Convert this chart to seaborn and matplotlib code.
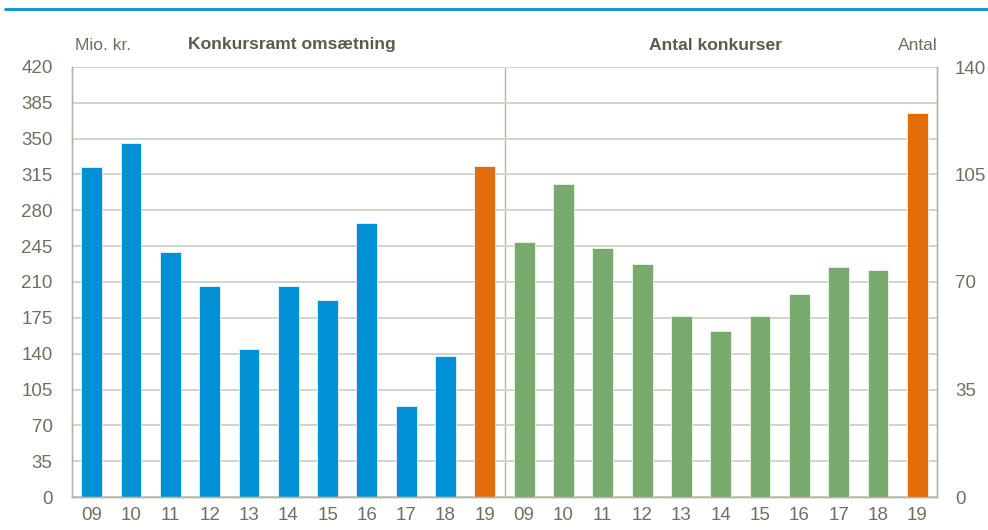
import pandas as pd
import matplotlib
matplotlib.use("Agg")
import matplotlib.pyplot as plt
from matplotlib.lines import Line2D
import seaborn as sns

# Data
years = ["09", "10", "11", "12", "13", "14", "15", "16", "17", "18", "19"]
omsaetning = [322, 346, 239, 206, 145, 206, 192, 268, 89, 138, 323]   # Mio. kr.
konkurser = [83, 102, 81, 76, 59, 54, 59, 66, 75, 74, 125]           # Antal

BLUE = "#0091d5"
GREEN = "#78aa6e"
ORANGE = "#e36c0a"
TEXT = "#6f6f60"
TITLE = "#5c5c4c"
SPINE = "#b4b4a6"
GRID = "#d3d3cb"

sns.set_style("white")
plt.rcParams["font.family"] = ["Liberation Sans", "DejaVu Sans"]

n = len(years)
left = pd.DataFrame({
    "pos": list(range(n)),
    "value": omsaetning,
    "grp": ["hist"] * (n - 1) + ["now"],
})
right = pd.DataFrame({
    "pos": list(range(n, 2 * n)),
    "value": konkurser,
    "grp": ["hist"] * (n - 1) + ["now"],
})

fig = plt.figure(figsize=(9.88, 5.3), dpi=100)
ax = fig.add_axes([72 / 988, 1 - 497 / 530, 865 / 988, 430 / 530])
ax2 = ax.twinx()

sns.barplot(data=left, x="pos", y="value", hue="grp", dodge=False,
            palette={"hist": BLUE, "now": ORANGE}, native_scale=True, saturation=1,
            width=0.53, legend=False, ax=ax, edgecolor="#e8f4fb", linewidth=0.6)
sns.barplot(data=right, x="pos", y="value", hue="grp", dodge=False,
            palette={"hist": GREEN, "now": ORANGE}, native_scale=True, saturation=1,
            width=0.53, legend=False, ax=ax2, edgecolor="#eef5ec", linewidth=0.6)

ax.set_xlim(-0.5, 2 * n - 0.5)
ax.set_ylim(0, 420)
ax2.set_ylim(0, 140)
ax.set_yticks(range(0, 421, 35))
ax2.set_yticks(range(0, 141, 35))
ax.set_xticks(range(2 * n))
ax.set_xticklabels(years + years)

ax.set_axisbelow(True)
ax.grid(axis="y", color=GRID, lw=1.4)
ax.axvline(n - 0.5, color=SPINE, lw=1, zorder=0.5)

for a in (ax, ax2):
    a.set_xlabel("")
    a.set_ylabel("")
    for s in a.spines.values():
        s.set_color(SPINE)
        s.set_linewidth(1)
    a.spines["top"].set_visible(False)
    a.tick_params(length=0, labelsize=13.5, colors=TEXT)

ax.tick_params(axis="y", pad=14)
ax2.tick_params(axis="y", pad=13)
ax.tick_params(axis="x", pad=7)
for lab in ax2.get_yticklabels():
    lab.set_horizontalalignment("left")

# header texts
fig.text(75 / 988, 1 - 45 / 530, "Mio. kr.", fontsize=12.5, color=TEXT, va="center", ha="left")
fig.text(188 / 988, 1 - 45 / 530, "Konkursramt omsætning", fontsize=12.6, color=TITLE,
         fontweight="bold", va="center", ha="left")
fig.text(715 / 988, 1 - 45 / 530, "Antal konkurser", fontsize=12.6, color=TITLE,
         fontweight="bold", va="center", ha="center")
fig.text(938 / 988, 1 - 45 / 530, "Antal", fontsize=12.5, color=TEXT, va="center", ha="right")

# blue rule at the top
fig.add_artist(Line2D([5 / 988, 1], [1 - 9 / 530, 1 - 9 / 530], color=BLUE, lw=2))

fig.savefig("out.png", dpi=100)
